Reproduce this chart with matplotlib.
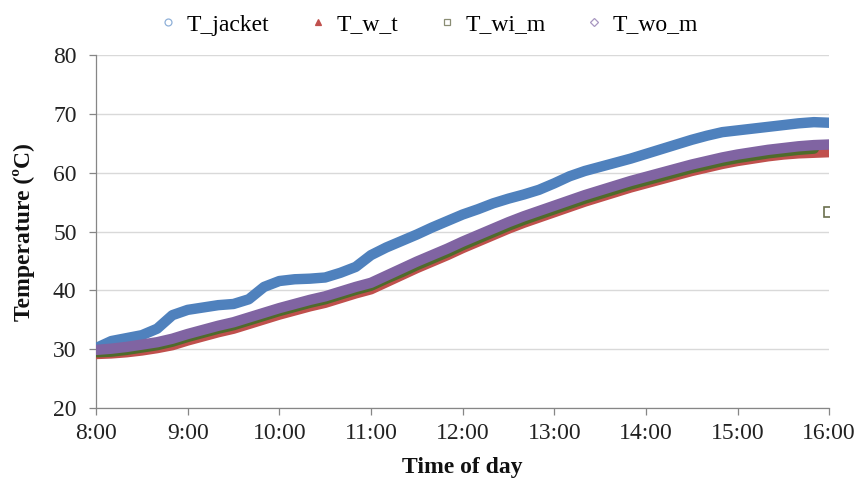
import numpy as np
import matplotlib
matplotlib.use("Agg")
import matplotlib.pyplot as plt

plt.rcParams["font.family"] = ["Liberation Serif", "DejaVu Serif"]

# readings every 10 min from 8:00 to 16:00 (minutes after 8:00)
minutes = list(range(0, 481, 10))

t_jacket = [30.2, 31.4, 31.9, 32.4, 33.5, 35.8, 36.7, 37.1, 37.5, 37.7,
            38.5, 40.6, 41.6, 41.9, 42.0, 42.2, 43.0, 44.0, 46.0, 47.3,
            48.4, 49.5, 50.7, 51.8, 52.9, 53.8, 54.8, 55.6, 56.3, 57.1,
            58.2, 59.4, 60.3, 61.0, 61.7, 62.4, 63.2, 64.0, 64.8, 65.6,
            66.3, 66.9, 67.2, 67.5, 67.8, 68.1, 68.4, 68.6, 68.5]

t_w_t = [29.2, 29.3, 29.5, 29.8, 30.2, 30.7, 31.5, 32.2, 32.9, 33.5,
         34.3, 35.1, 35.9, 36.6, 37.3, 37.9, 38.7, 39.5, 40.2, 41.4,
         42.6, 43.8, 44.9, 46.0, 47.2, 48.3, 49.4, 50.5, 51.5, 52.4,
         53.3, 54.2, 55.1, 55.9, 56.7, 57.5, 58.2, 58.9, 59.6, 60.3,
         60.9, 61.5, 62.0, 62.4, 62.8, 63.1, 63.3, 63.4, 63.5]

# last reading of T_wi_m (16:00) drops off the curve
t_wi_m = [29.5, 29.6, 29.9, 30.3, 30.7, 31.3, 32.1, 32.8, 33.5, 34.1,
          34.9, 35.7, 36.5, 37.2, 37.9, 38.5, 39.3, 40.1, 40.8, 42.0,
          43.1, 44.3, 45.4, 46.5, 47.7, 48.8, 49.9, 51.0, 52.0, 52.9,
          53.8, 54.7, 55.6, 56.4, 57.2, 58.0, 58.7, 59.4, 60.1, 60.8,
          61.4, 62.0, 62.5, 62.9, 63.3, 63.6, 63.9, 64.1, 53.4]

t_wo_m = [29.9, 30.1, 30.4, 30.8, 31.2, 31.8, 32.6, 33.3, 34.0, 34.6,
          35.4, 36.2, 37.0, 37.7, 38.4, 39.0, 39.8, 40.6, 41.3, 42.5,
          43.7, 44.9, 46.0, 47.1, 48.3, 49.4, 50.5, 51.6, 52.6, 53.5,
          54.4, 55.3, 56.2, 57.0, 57.8, 58.6, 59.3, 60.0, 60.7, 61.4,
          62.0, 62.6, 63.1, 63.5, 63.9, 64.2, 64.5, 64.7, 64.8]

hours = list(range(8, 17))
hour_labels = [f"{h}:00" for h in hours]

x = 8 + np.array(minutes) / 60.0

fig = plt.figure(figsize=(8.59, 4.83), dpi=100)
ax = fig.add_axes([0.1118, 0.155, 0.8535, 0.731])

series = [
    ("T_jacket", t_jacket, "#4F81BD", "o", "white", "#8FB0D8"),
    ("T_w_t", t_w_t, "#C0504D", "^", "#C0504D", "#C0504D"),
    ("T_wi_m", t_wi_m, "#4F6B2A", "s", "white", "#8A8D74"),
    ("T_wo_m", t_wo_m, "#8064A2", "D", "white", "#A796C0"),
]

handles = []
for name, vals, col, mk, face, leg_edge in series:
    vals = np.array(vals)
    if name == "T_wi_m":
        xs, ys = x[:-1], vals[:-1]
        # stray last reading
        ax.plot(x[-1:], vals[-1:], ls="none", marker="s", ms=6.5,
                mfc="white", mec="#6B6F4E", mew=1.2, zorder=4)
    else:
        xs, ys = x, vals
    ax.plot(xs, ys, color=col, lw=7.5, solid_capstyle="round", zorder=3)
    h, = ax.plot([], [], ls="none", marker=mk, ms=5 if mk != "D" else 4,
                 mfc=face, mec=leg_edge, mew=0.9, label=name)
    handles.append(h)

ax.set_xlim(8, 16)
ax.set_ylim(20, 80)
ax.set_xticks(hours)
ax.set_xticklabels(hour_labels)
ax.set_yticks(range(20, 81, 10))

ax.yaxis.grid(True, color="#D9D9D9", lw=1.0)
ax.set_axisbelow(True)

for s in ["top", "right"]:
    ax.spines[s].set_visible(False)
for s in ["left", "bottom"]:
    ax.spines[s].set_color("#868686")
    ax.spines[s].set_linewidth(0.9)

ax.tick_params(axis="both", colors="#868686", labelcolor="#222222",
               labelsize=17, length=5, width=0.9, direction="out")
ax.tick_params(axis="x", pad=6)
ax.tick_params(axis="y", pad=9)

ax.set_xlabel("Time of day", fontsize=17, fontweight="bold", color="#111111", labelpad=9)
ax.set_ylabel("Temperature (ºC)", fontsize=17, fontweight="bold", color="#111111", labelpad=13)

fig.legend(handles=handles, loc="upper center", bbox_to_anchor=(0.5, 1.015),
           ncol=4, frameon=False, fontsize=17, handlelength=0.6,
           handletextpad=0.5, columnspacing=1.75)

fig.savefig("out.png", dpi=100)
